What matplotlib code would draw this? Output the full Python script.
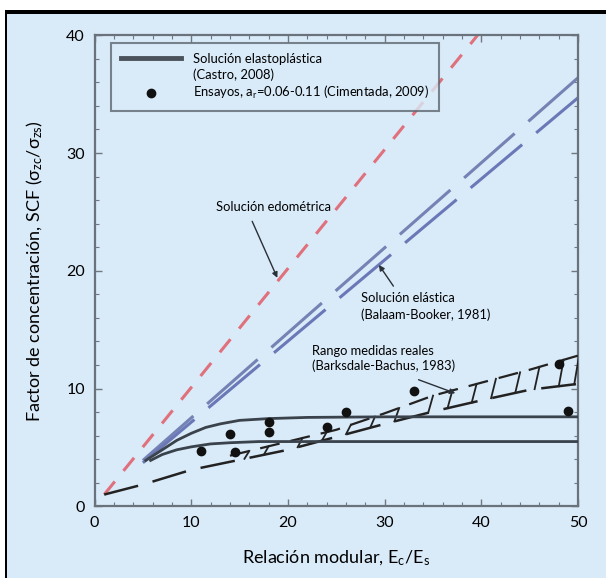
import numpy as np
import matplotlib
matplotlib.use('Agg')
import matplotlib.pyplot as plt
from matplotlib.patches import Rectangle

plt.rcParams['font.family'] = ['Lato', 'DejaVu Sans']
plt.rcParams['mathtext.fontset'] = 'custom'
plt.rcParams['mathtext.rm'] = 'Lato'
plt.rcParams['mathtext.it'] = 'Lato'
plt.rcParams['mathtext.default'] = 'regular'

# ---------------------------------------------------------------
# data
# ---------------------------------------------------------------
# solucion edometrica (red)
edo_x = [1, 39.6]
edo_y = [1, 40]

# solucion elastica (two blue lines)
ela_x = [5, 50]
ela_hi_y = [3.9, 36.4]
ela_lo_y = [3.7, 34.7]

# rango medidas reales (Barksdale-Bachus), lower and upper bound
band_lo_x = [1, 5, 10, 15, 20, 25, 30, 35, 40, 45, 50]
band_lo_y = [1.0, 1.85, 3.1, 3.95, 4.8, 5.9, 7.0, 8.05, 9.0, 9.9, 10.4]
band_hi_x = [14, 20, 25, 30, 35, 40, 45, 50]
band_hi_y = [4.3, 5.5, 6.5, 7.9, 9.4, 10.5, 11.6, 12.8]
rung_x = [15.5, 17.5, 21, 23.5, 26, 28.5, 31, 34.5, 36.5, 39, 41, 43.5, 45.5, 48, 49.6]

# solucion elastoplastica (Castro, 2008)
ep_hi_x = [5.3, 7, 8.5, 10, 11.5, 13, 15, 18, 22, 30, 50]
ep_hi_y = [3.9, 4.8, 5.6, 6.2, 6.7, 7.0, 7.3, 7.45, 7.55, 7.6, 7.6]
ep_lo_x = [5.8, 7, 8.5, 10, 12, 14, 17, 22, 30, 50]
ep_lo_y = [3.9, 4.4, 4.8, 5.05, 5.3, 5.4, 5.5, 5.5, 5.5, 5.5]

# ensayos (Cimentada, 2009)
test_x = [11, 14, 14.5, 18, 18, 24, 26, 33, 48, 49]
test_y = [4.7, 6.1, 4.6, 7.2, 6.3, 6.7, 8.0, 9.8, 12.1, 8.1]

bg = '#d9eaf8'
fig = plt.figure(figsize=(6.06, 5.78), dpi=100, facecolor=bg)
ax = fig.add_axes([0.156, 0.124, 0.798, 0.815], facecolor=bg)

# frame of the picture (white strip + black line on top and left)
fig.patches.append(Rectangle((0, 0.983), 1, 0.017, transform=fig.transFigure,
                             facecolor='white', edgecolor='none', zorder=0))
fig.patches.append(Rectangle((0, 0.983 - 0.007), 1, 0.007, transform=fig.transFigure,
                             facecolor='black', edgecolor='none', zorder=0))
fig.patches.append(Rectangle((0, 0), 0.008, 1, transform=fig.transFigure,
                             facecolor='white', edgecolor='none', zorder=0))
fig.patches.append(Rectangle((0.008, 0), 0.004, 0.983, transform=fig.transFigure,
                             facecolor='black', edgecolor='none', zorder=0))

# curves
ax.plot(edo_x, edo_y, color='#e0707c', lw=2.2, dashes=(5.5, 4.5), zorder=2)
ax.plot(ela_x, ela_hi_y, color='#7482b4', lw=2.2, dashes=(22, 6), zorder=2)
ax.plot(ela_x, ela_lo_y, color='#6a78b8', lw=2.2, dashes=(22, 6), zorder=2)

ax.plot(band_lo_x, band_lo_y, color='#222222', lw=1.8, dashes=(14, 6), zorder=3)
ax.plot(band_hi_x, band_hi_y, color='#222222', lw=1.6, dashes=(9, 5), zorder=3)
for rx in rung_x:
    ax.plot([rx, rx + 0.5],
            [np.interp(rx, band_lo_x, band_lo_y), np.interp(rx + 0.5, band_hi_x, band_hi_y)],
            color='#222222', lw=1.3, zorder=3)

ax.plot(ep_hi_x, ep_hi_y, color='#3a424c', lw=2.0, zorder=4)
ax.plot(ep_lo_x, ep_lo_y, color='#3a424c', lw=2.0, zorder=4)
ax.plot(test_x, test_y, 'o', color='#111111', ms=6, zorder=5)

# annotations
arrow = dict(arrowstyle='-|>', color='#2a3038', lw=1.0, mutation_scale=8, shrinkA=0, shrinkB=0)
ax.text(18.5, 25.4, 'Solución edométrica', fontsize=9.3, ha='center', va='center')
ax.annotate('', xy=(18.9, 19.4), xytext=(16.3, 24.2), arrowprops=arrow)

ax.text(27.5, 17.7, 'Solución elástica', fontsize=9.3, ha='left', va='center')
ax.text(27.5, 16.3, '(Balaam-Booker, 1981)', fontsize=9.3, ha='left', va='center')
ax.annotate('', xy=(29.4, 20.5), xytext=(30.9, 18.7), arrowprops=arrow)

ax.text(22.5, 13.15, 'Rango medidas reales', fontsize=9.3, ha='left', va='center')
ax.text(22.5, 11.9, '(Barksdale-Bachus, 1983)', fontsize=9.3, ha='left', va='center')
ax.annotate('', xy=(37.3, 9.6), xytext=(33.5, 10.75), arrowprops=arrow)

# legend
leg_handles = [
    ax.plot([], [], color='#4a525c', lw=3.5)[0],
    ax.plot([], [], color='none')[0],
    ax.plot([], [], 'o', color='#111111', ms=6)[0],
]
leg_labels = ['Solución elastoplástica', '(Castro, 2008)',
              'Ensayos, a$_r$=0.06-0.11 (Cimentada, 2009)']
leg = ax.legend(leg_handles, leg_labels, loc='upper left', bbox_to_anchor=(0.035, 0.983),
                fontsize=9.4, frameon=True, fancybox=False, handlelength=4.6,
                handletextpad=0.9, labelspacing=0.25, borderpad=0.75, borderaxespad=0)
leg.get_frame().set_facecolor(bg)
leg.get_frame().set_edgecolor('#5f6770')
leg.get_frame().set_linewidth(1.5)

# axes
ax.set_xlim(0, 50)
ax.set_ylim(0, 40)
ax.set_xticks([0, 10, 20, 30, 40, 50])
ax.set_yticks([0, 10, 20, 30, 40])
ax.set_xticks(np.arange(0, 51, 2), minor=True)
ax.set_yticks(np.arange(0, 41, 2), minor=True)
ax.tick_params(which='both', direction='in', top=True, right=True, color='#707880')
ax.tick_params(which='major', length=5, width=1.0, labelsize=11.5, pad=7)
ax.tick_params(which='minor', length=3, width=0.8)
for s in ax.spines.values():
    s.set_color('#6a727c')
    s.set_linewidth(1.6)

ax.set_xlabel('Relación modular, E$_c$/E$_s$', fontsize=13, labelpad=13)
ax.set_ylabel('Factor de concentración, SCF (σ$_{zc}$/σ$_{zs}$)', fontsize=13, labelpad=15)

fig.savefig('out.png', dpi=100, facecolor=bg)
